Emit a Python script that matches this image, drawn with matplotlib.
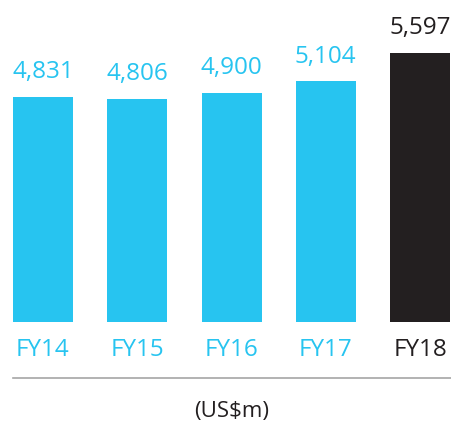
import matplotlib
matplotlib.use("Agg")
import matplotlib.pyplot as plt

categories = ["FY14", "FY15", "FY16", "FY17", "FY18"]
values = [4831, 4806, 4900, 5104, 5597]
value_labels = ["4,831", "4,806", "4,900", "5,104", "5,597"]
unit_label = "(US$m)"

BLUE = "#27C4F0"
DARK = "#231F20"
colors = [BLUE, BLUE, BLUE, BLUE, DARK]

plt.rcParams['font.family'] = ['Open Sans', 'DejaVu Sans']

W, H = 451, 423
fig = plt.figure(figsize=(W / 100, H / 100), dpi=100)
# axes spans bar area: from top of figure to bar baseline at y=322px
ax = fig.add_axes([0, (H - 322) / H, 1, 322 / H])
spacing = 94.25
ax.set_xlim(-43 / spacing, (W - 43) / spacing)
base = 914
scale = 0.0574  # px per unit
ax.set_ylim(base, base + 322 / scale)
ax.axis('off')

x = list(range(len(categories)))
ax.bar(x, values, width=60 / spacing, color=colors, bottom=0)

for xi, v, lab, c in zip(x, values, value_labels, colors):
    ax.annotate(lab, (xi, v), xytext=(0, 13.5), textcoords='offset points',
                ha='center', va='baseline', fontsize=17.5, color=c)

# category labels below bars
for xi, cat, c in zip(x, categories, colors):
    px = 43 + xi * spacing
    fig.text(px / W, 1 - 350 / H, cat, ha='center', va='center',
             fontsize=17.5, color=c)

# separator line
fig.add_artist(plt.Line2D([13 / W, 1], [1 - 378 / H, 1 - 378 / H],
                          color='#A6A6A6', lw=1.2))
fig.text(232 / W, 1 - 411 / H, unit_label, ha='center', va='center',
         fontsize=16, color=DARK)

fig.savefig("out.png", dpi=100)
